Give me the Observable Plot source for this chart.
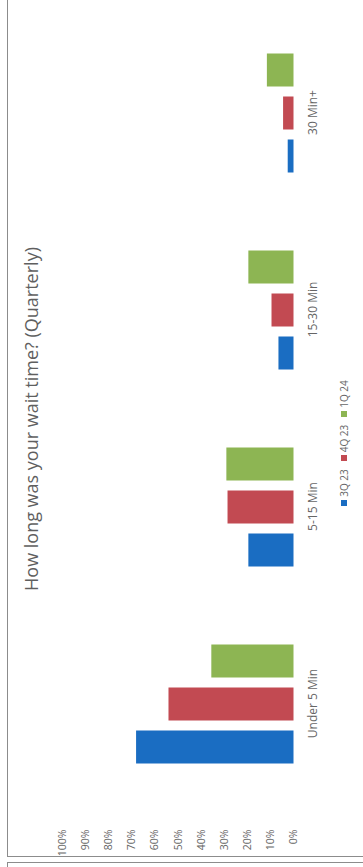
<!DOCTYPE html>
<html><head><meta charset="utf-8">
<script src="https://cdn.jsdelivr.net/npm/d3@7"></script>
<script src="https://cdn.jsdelivr.net/npm/@observablehq/plot@0.6"></script>
<style>
html,body{margin:0;padding:0;background:#fff;width:363px;height:867px;overflow:hidden;}
#box{position:absolute;left:7px;top:-10px;width:400px;height:867px;border:1.6px solid #8c8c8c;box-sizing:border-box;}
#box2{position:absolute;left:7px;top:862px;width:400px;height:40px;border:1.6px solid #8c8c8c;box-sizing:border-box;}
#frame{position:absolute;left:8px;top:857px;width:870px;height:355px;transform-origin:0 0;transform:rotate(-90deg);font-family:"Open Sans",sans-serif;}
#title{position:absolute;left:0;width:876px;top:13px;text-align:center;font-size:18px;line-height:20px;color:#5f5f5f;white-space:nowrap;}
#chart{position:absolute;left:0;top:0;}
#legend{position:absolute;left:0;width:828px;top:329px;display:flex;justify-content:center;gap:8px;font-size:10px;line-height:14px;color:#666;}
#legend .it{display:flex;align-items:center;gap:3px;}
#legend .sw{width:6px;height:6px;display:inline-block;}
</style></head>
<body>
<div id="box"></div>
<div id="box2"></div>
<div id="frame">
  <div id="chart"></div>
  <div id="title">How long was your wait time? (Quarterly)</div>
  <div id="legend"></div>
</div>
<script>
const categories = ["Under 5 Min", "5-15 Min", "15-30 Min", "30 Min+"];
const series = ["3Q 23", "4Q 23", "1Q 24"];
const q3_23 = [68, 19.5, 6.5, 2.5];
const q4_23 = [54, 28.5, 9.5, 4.5];
const q1_24 = [35.5, 29, 19.5, 11.5];
const yTicks = [0, 10, 20, 30, 40, 50, 60, 70, 80, 90, 100];
const colors = ["#1a6dc2", "#c24a52", "#8db553"];

const seriesValues = [q3_23, q4_23, q1_24];
const data = categories.flatMap((c, i) => series.map((s, j) => ({cat: c, s, v: seriesValues[j][i]})));

const chart = Plot.plot({
  width: 870,
  height: 316,
  marginTop: 54,
  marginBottom: 30.5,
  marginLeft: 53.5,
  marginRight: 25.7,
  style: {fontFamily: "Open Sans, sans-serif", color: "#666", background: "transparent"},
  fx: {domain: categories, paddingInner: 0.3885, paddingOuter: 0.194, label: null, axis: null},
  x: {domain: series, paddingInner: 0.233, paddingOuter: 0, axis: null},
  y: {domain: [0, 100], axis: null},
  color: {domain: series, range: colors},
  marks: [
    Plot.barY(data, {fx: "cat", x: "s", y: "v", fill: "s"}),
    Plot.axisY({ticks: yTicks, tickFormat: d => d + "%", tickSize: 0, tickPadding: 66, label: null, fontSize: 10.5}),
    Plot.axisFx({anchor: "bottom", tickSize: 0, tickPadding: 14, label: null, fontSize: 12})
  ]
});
document.getElementById("chart").appendChild(chart);

const legend = document.getElementById("legend");
series.forEach((s, j) => {
  const it = document.createElement("div");
  it.className = "it";
  const sw = document.createElement("span");
  sw.className = "sw";
  sw.style.background = colors[j];
  const tx = document.createElement("span");
  tx.textContent = s;
  it.appendChild(sw);
  it.appendChild(tx);
  legend.appendChild(it);
});
</script>
</body></html>
